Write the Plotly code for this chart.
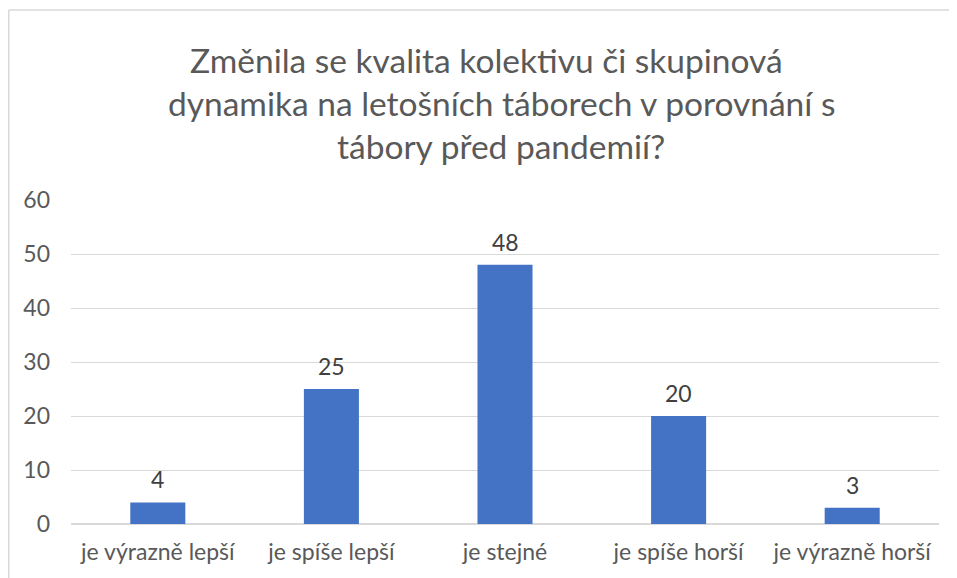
import plotly.graph_objects as go

categories = ["je výrazně lepší", "je spíše lepší", "je stejné", "je spíše horší", "je výrazně horší"]
values = [4, 25, 48, 20, 3]
y_ticks = [0, 10, 20, 30, 40, 50, 60]
title_lines = ["Změnila se kvalita kolektivu či skupinová",
               "dynamika na letošních táborech v porovnání s",
               "tábory před pandemií?"]

# page body has an 8px margin, so figure is laid out in shifted coordinates
OFF = 8
W, H = 957 - OFF, 578 - OFF
L, R, T, B = 71 - OFF, 18, 200 - OFF, 54
pw, ph = W - L - R, H - T - B
FONT = "Lato"

fig = go.Figure()
fig.add_trace(go.Bar(
    x=categories, y=values,
    marker=dict(color="#4472c4", line=dict(width=0)),
))

for c, v in zip(categories, values):
    fig.add_annotation(x=c, y=v, text=str(v), showarrow=False,
                       yanchor="middle", yshift=23,
                       font=dict(family=FONT, size=23, color="#404040"))

fig.update_layout(
    width=W, height=H,
    margin=dict(l=L, r=R, t=T, b=B),
    paper_bgcolor="white", plot_bgcolor="white",
    bargap=0.683,
    showlegend=False,
    font=dict(family=FONT, color="#595959"),
    xaxis=dict(showgrid=False, showline=False, ticks="",
               ticklabelstandoff=12,
               tickfont=dict(family=FONT, size=23, color="#595959")),
    yaxis=dict(range=[0, 60], tickvals=y_ticks, showgrid=True,
               gridcolor="#d9d9d9", gridwidth=1, zeroline=True,
               zerolinecolor="#d9d9d9", zerolinewidth=1.5, ticks="",
               ticklabelstandoff=20,
               tickfont=dict(family=FONT, size=23, color="#595959")),
)

centers_px = [486 - OFF, 501 - OFF, 501 - OFF]
ys_px = [60 - OFF, 103 - OFF, 146 - OFF]
for line, cx, cy in zip(title_lines, centers_px, ys_px):
    fig.add_annotation(text=line, xref="paper", yref="paper",
                       x=(cx - L) / pw, y=(H - B - cy) / ph,
                       xanchor="center", yanchor="middle", showarrow=False,
                       font=dict(family=FONT, size=33.5, color="#595959"))

# chart border (top and left edges only visible)
bx = (0.75 - L) / pw
by = (H - B - (10 - OFF)) / ph
fig.add_shape(type="line", xref="paper", yref="paper",
              x0=bx, x1=(W + 5 - L) / pw, y0=by, y1=by,
              line=dict(color="#d9d9d9", width=1.5), layer="below")
fig.add_shape(type="line", xref="paper", yref="paper",
              x0=bx, x1=bx, y0=by, y1=(H - B - (H + 5)) / ph,
              line=dict(color="#d9d9d9", width=1.5), layer="below")

fig.write_html("out.html")
